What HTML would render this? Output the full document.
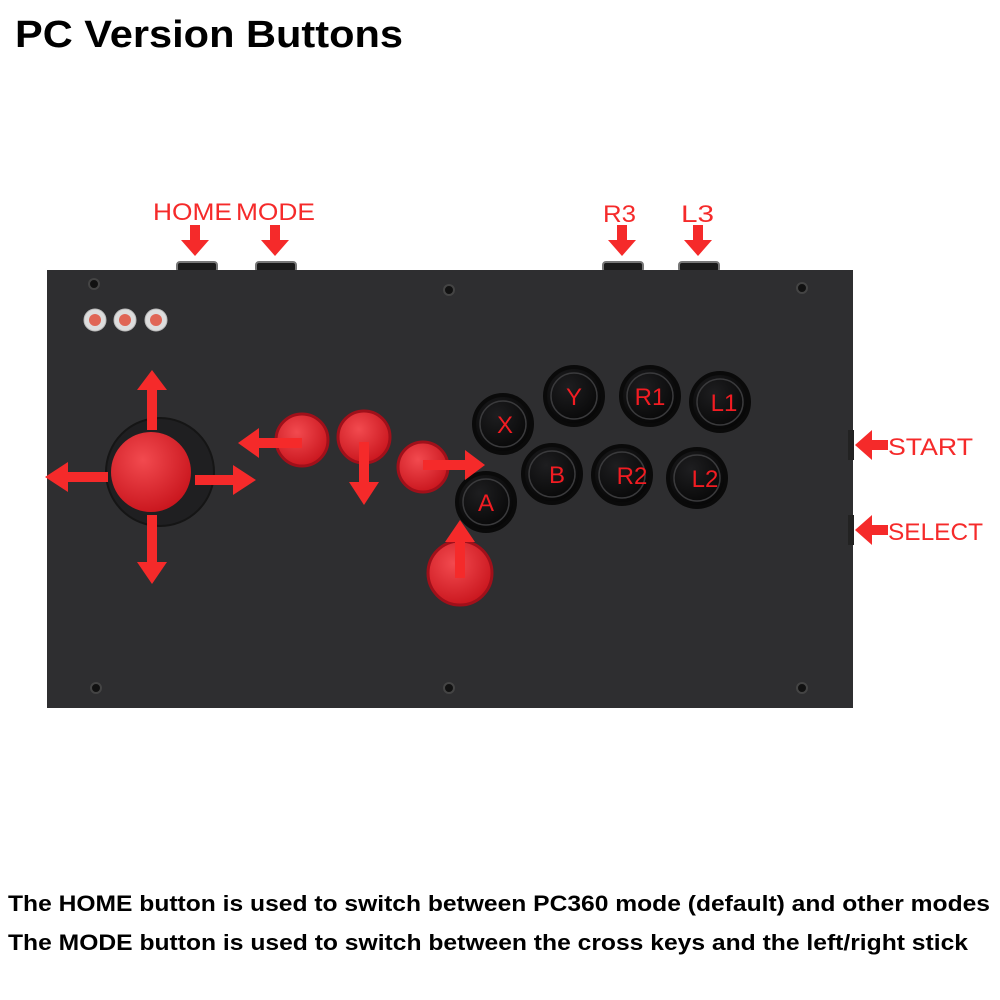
<!DOCTYPE html>
<html><head><meta charset="utf-8"><style>
html,body{margin:0;padding:0;background:#fff;}
svg{display:block;font-family:"Liberation Sans",sans-serif;}
</style></head><body>
<svg width="1000" height="1000" viewBox="0 0 1000 1000" xmlns="http://www.w3.org/2000/svg">
<defs>
<radialGradient id="rb" cx="0.4" cy="0.35" r="0.7"><stop offset="0" stop-color="#f24a4f"/><stop offset="1" stop-color="#c8141c"/></radialGradient>
<radialGradient id="bb" cx="0.4" cy="0.35" r="0.7"><stop offset="0" stop-color="#1e1e20"/><stop offset="1" stop-color="#050505"/></radialGradient>
<g id="da"><rect x="-5" y="225" width="10" height="17"/><polygon points="-14,240 14,240 0,256"/></g>
</defs>
<text x="15" y="47" font-size="38" font-weight="bold" fill="#000" textLength="388" lengthAdjust="spacingAndGlyphs">PC Version Buttons</text>

<g fill="#1a1a1a" stroke="#777" stroke-width="2">
<rect x="177" y="262" width="40" height="10" rx="3"/>
<rect x="256" y="262" width="40" height="10" rx="3"/>
<rect x="603" y="262" width="40" height="10" rx="3"/>
<rect x="679" y="262" width="40" height="10" rx="3"/>
</g>
<rect x="47" y="270" width="806" height="438" fill="#2e2e30"/>
<rect x="848" y="430" width="6" height="30" fill="#222"/>
<rect x="848" y="515" width="6" height="30" fill="#222"/>
<g fill="#111" stroke="#444" stroke-width="2">
<circle cx="94" cy="284" r="5"/><circle cx="449" cy="290" r="5"/><circle cx="802" cy="288" r="5"/>
<circle cx="96" cy="688" r="5"/><circle cx="449" cy="688" r="5"/><circle cx="802" cy="688" r="5"/>
</g>
<g fill="#ddd" stroke="#bbb" stroke-width="1">
<circle cx="95" cy="320" r="11"/><circle cx="125" cy="320" r="11"/><circle cx="156" cy="320" r="11"/>
</g>
<g fill="#e06555"><circle cx="95" cy="320" r="6"/><circle cx="125" cy="320" r="6"/><circle cx="156" cy="320" r="6"/></g>

<circle cx="160" cy="472" r="54" fill="#1f1f21" stroke="#151515" stroke-width="2"/>
<circle cx="151" cy="472" r="40" fill="url(#rb)"/>

<g fill="url(#rb)" stroke="#a0101a" stroke-width="3">
<circle cx="302" cy="440" r="26"/><circle cx="364" cy="437" r="26"/><circle cx="423" cy="467" r="25"/><circle cx="460" cy="573" r="32"/>
</g>
<g fill="url(#bb)" stroke="#0a0a0a" stroke-width="4">
<circle cx="503" cy="424" r="29"/><circle cx="574" cy="396" r="29"/><circle cx="650" cy="396" r="29"/><circle cx="720" cy="402" r="29"/>
<circle cx="552" cy="474" r="29"/><circle cx="622" cy="475" r="29"/><circle cx="697" cy="478" r="29"/><circle cx="486" cy="502" r="29"/>
</g>
<g fill="none" stroke="#3a3a3c" stroke-width="1.5">
<circle cx="503" cy="424" r="23"/><circle cx="574" cy="396" r="23"/><circle cx="650" cy="396" r="23"/><circle cx="720" cy="402" r="23"/>
<circle cx="552" cy="474" r="23"/><circle cx="622" cy="475" r="23"/><circle cx="697" cy="478" r="23"/><circle cx="486" cy="502" r="23"/>
</g>
<g fill="#f21c22" font-size="24" text-anchor="middle">
<text x="505" y="433">X</text><text x="574" y="405">Y</text><text x="650" y="405">R1</text><text x="724" y="411">L1</text>
<text x="557" y="483">B</text><text x="632" y="484">R2</text><text x="705" y="487">L2</text><text x="486" y="511">A</text>
</g>

<g fill="#f52a2a">
<use href="#da" x="195"/><use href="#da" x="275"/><use href="#da" x="622"/><use href="#da" x="698"/>
<rect x="147" y="386" width="10" height="44"/><polygon points="137,390 167,390 152,370"/>
<rect x="64" y="472" width="44" height="10"/><polygon points="68,462 68,492 45,477"/>
<rect x="195" y="475" width="42" height="10"/><polygon points="233,465 233,495 256,480"/>
<rect x="147" y="515" width="10" height="50"/><polygon points="137,562 167,562 152,584"/>
<rect x="255" y="438" width="47" height="10"/><polygon points="259,428 259,458 238,443"/>
<rect x="359" y="442" width="10" height="45"/><polygon points="349,482 379,482 364,505"/>
<rect x="423" y="460" width="45" height="10"/><polygon points="465,450 465,480 485,465"/>
<rect x="455" y="538" width="10" height="40"/><polygon points="445,542 475,542 460,520"/>
<rect x="870" y="440" width="18" height="10"/><polygon points="872,430 872,460 855,445"/>
<rect x="870" y="525" width="18" height="10"/><polygon points="872,515 872,545 855,530"/>
</g>
<g fill="#f52a2a" font-size="24">
<text x="153" y="220" textLength="79" lengthAdjust="spacingAndGlyphs">HOME</text>
<text x="236" y="220" textLength="79" lengthAdjust="spacingAndGlyphs">MODE</text>
<text x="603" y="222" textLength="33" lengthAdjust="spacingAndGlyphs">R3</text>
<text x="681" y="222" textLength="33" lengthAdjust="spacingAndGlyphs">L3</text>
<text x="888" y="455" textLength="85" lengthAdjust="spacingAndGlyphs">START</text>
<text x="888" y="540" textLength="95" lengthAdjust="spacingAndGlyphs">SELECT</text>
</g>

<g font-size="22" font-weight="bold" fill="#000">
<text x="8" y="911" textLength="982" lengthAdjust="spacingAndGlyphs">The HOME button is used to switch between PC360 mode (default) and other modes</text>
<text x="8" y="950" textLength="960" lengthAdjust="spacingAndGlyphs">The MODE button is used to switch between the cross keys and the left/right stick</text>
</g>
</svg>
</body></html>
